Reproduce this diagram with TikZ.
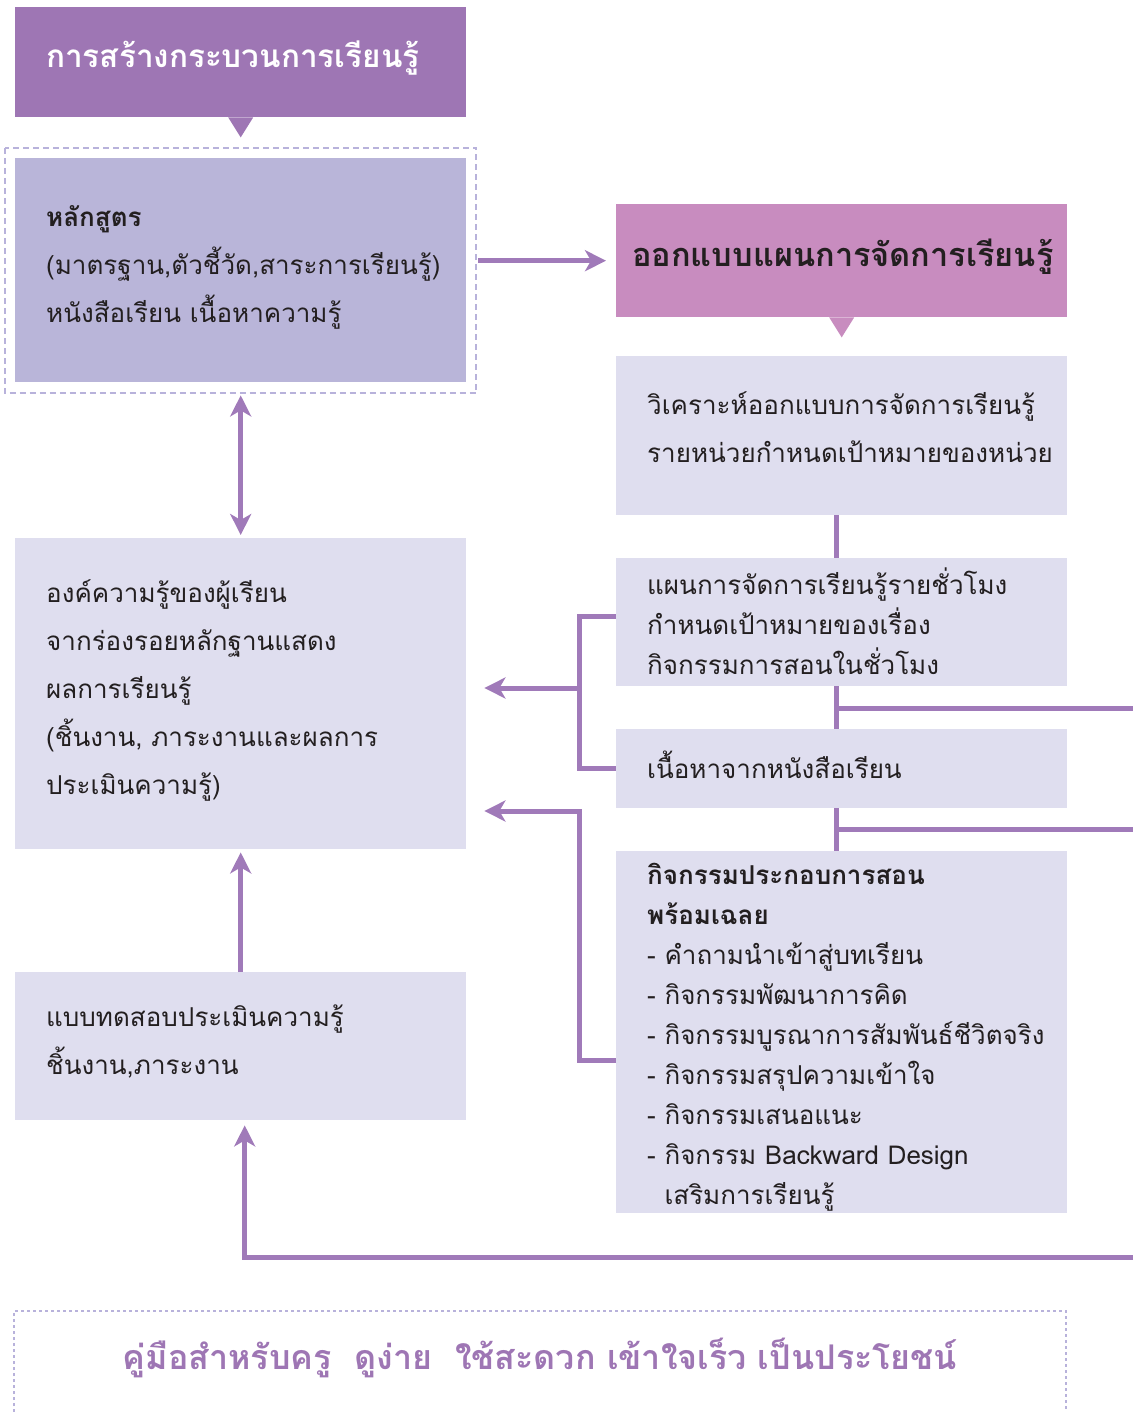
\documentclass[tikz,border=0pt]{standalone}
\usepackage{fontspec}
\newfontfamily\thai[Script=Thai]{Loma}
\usetikzlibrary{arrows.meta}
\definecolor{headpurple}{HTML}{9E76B4}
\definecolor{headpink}{HTML}{C88CBF}
\definecolor{lavender}{HTML}{B9B5D9}
\definecolor{palebox}{HTML}{DFDEEF}
\definecolor{linkpurple}{HTML}{A07AB9}
\definecolor{dashlilac}{HTML}{B8B2DB}
\definecolor{inkdark}{HTML}{231F20}

\begin{document}
\begin{tikzpicture}
[x=1pt,y=-1pt,%
  every node/.style={inner sep=0pt,font=\thai},%
  panel/.style={anchor=north west,inner xsep=31pt,text width=389pt,
    align=left,text=inkdark,fill=palebox,
    font=\thai\fontsize{26}{48}\selectfont},%
  tight/.style={font=\thai\fontsize{26}{40}\selectfont},%
  headbox/.style={anchor=north west,inner xsep=31pt,text width=389pt,
    align=left,font=\thai\bfseries\fontsize{31.5}{36}\selectfont},%
  link/.style={draw=linkpurple,line width=5pt},%
  arrowlink/.style={link,-{Stealth[length=21pt,width=21pt,inset=6pt]}},%
  arrowboth/.style={link,{Stealth[length=21pt,width=21pt,inset=6pt]}-{Stealth[length=21pt,width=21pt,inset=6pt]}},%
  frame/.style={draw=dashlilac,line width=2pt,dash pattern=on 6pt off 4pt}]
\useasboundingbox (0,0) rectangle (1133,1412);

% left column
\node[headbox,fill=headpurple,text=white,text height=60pt,text depth=50pt] (title) at (15,7)
  {การสร้างกระบวนการเรียนรู้};
\fill[headpurple] ([xshift=-12.5pt]title.south) -- ([xshift=12.5pt]title.south)
  -- ([yshift=-20pt]title.south) -- cycle;
\node[panel,fill=lavender,text height=68pt,text depth=156pt] (curr) at (15,158)
  {\textbf{หลักสูตร}\\(มาตรฐาน,ตัวชี้วัด,สาระการเรียนรู้)\\หนังสือเรียน เนื้อหาความรู้};
\draw[frame] ([shift={(-10pt,10pt)}]curr.north west) rectangle ([shift={(10pt,-11pt)}]curr.south east);
\node[panel,text height=64pt,text depth=247pt] (knowledge) at (15,538)
  {องค์ความรู้ของผู้เรียน\\จากร่องรอยหลักฐานแสดง\\ผลการเรียนรู้\\(ชิ้นงาน, ภาระงานและผลการ\\ประเมินความรู้)};
\node[panel,text height=54pt,text depth=94pt] (test) at (15,972)
  {แบบทดสอบประเมินความรู้\\ชิ้นงาน,ภาระงาน};

% right column
\node[headbox,fill=headpink,text=inkdark,inner xsep=16pt,text width=419pt,
  font=\thai\bfseries\fontsize{32.5}{36}\selectfont,
  text height=62pt,text depth=51pt] (plan) at (616,204)
  {ออกแบบแผนการจัดการเรียนรู้};
\fill[headpink] ([xshift=-12.5pt]plan.south) -- ([xshift=12.5pt]plan.south)
  -- ([yshift=-20pt]plan.south) -- cycle;
\node[panel,text height=58pt,text depth=101pt] (analyze) at (616,356)
  {วิเคราะห์ออกแบบการจัดการเรียนรู้\\รายหน่วยกำหนดเป้าหมายของหน่วย};
\node[panel,tight,text height=36pt,text depth=92pt] (hourly) at (616,558)
  {แผนการจัดการเรียนรู้รายชั่วโมง\\กำหนดเป้าหมายของเรื่อง\\กิจกรรมการสอนในชั่วโมง};
\node[panel,text height=49pt,text depth=30pt] (content) at (616,729)
  {เนื้อหาจากหนังสือเรียน};
\node[panel,tight,text height=33pt,text depth=329pt] (acts) at (616,851)
  {\textbf{กิจกรรมประกอบการสอน}\\\textbf{พร้อมเฉลย}\\- คำถามนำเข้าสู่บทเรียน\\- กิจกรรมพัฒนาการคิด\\- กิจกรรมบูรณาการสัมพันธ์ชีวิตจริง\\- กิจกรรมสรุปความเข้าใจ\\- กิจกรรมเสนอแนะ\\- กิจกรรม Backward Design\\\phantom{-~}เสริมการเรียนรู้};

% footer
\node[font=\thai\bfseries\fontsize{34}{40}\selectfont,text=headpurple] (motto) at (540,1358)
  {คู่มือสำหรับครู\ \ ดูง่าย\ \ ใช้สะดวก เข้าใจเร็ว เป็นประโยชน์};
\draw[frame,dash pattern=on 3pt off 3pt] (14,1412) -- (14,1311) -- (1066,1311) -- (1066,1412);

% connectors
\coordinate (spine) at (836,0);
\coordinate (forkA) at (579,688);
\coordinate (forkB) at (579,811);
\coordinate (edgeA) at (1133,708);
\coordinate (edgeB) at (1133,829);
\coordinate (edgeC) at (1133,1257);
\draw[arrowlink,shorten <=12pt,shorten >=10pt] (curr.east |- plan.west) -- (plan.west);
\draw[arrowboth,shorten <=13pt,shorten >=3pt] (curr.south) -- (knowledge.north);
\draw[arrowlink,shorten >=3pt] (test.north) -- (knowledge.south);
\draw[link] (analyze.south -| spine) -- (hourly.north -| spine);
\draw[link] (hourly.south -| spine) -- (content.north -| spine);
\draw[link] (content.south -| spine) -- (acts.north -| spine);
\draw[link] (edgeA -| spine) -- (edgeA);
\draw[link] (edgeB -| spine) -- (edgeB);
\draw[link] ([yshift=6pt]hourly.west) -| (forkA) |- (content.west);
\draw[arrowlink,shorten >=18pt] (forkA) -- (forkA -| knowledge.east);
\draw[arrowlink,shorten >=18pt] ([yshift=-28pt]acts.west) -| (forkB) -- (forkB -| knowledge.east);
\draw[arrowlink,shorten >=5pt] (edgeC) -| ([xshift=4pt]test.south);
\end{tikzpicture}
\end{document}
